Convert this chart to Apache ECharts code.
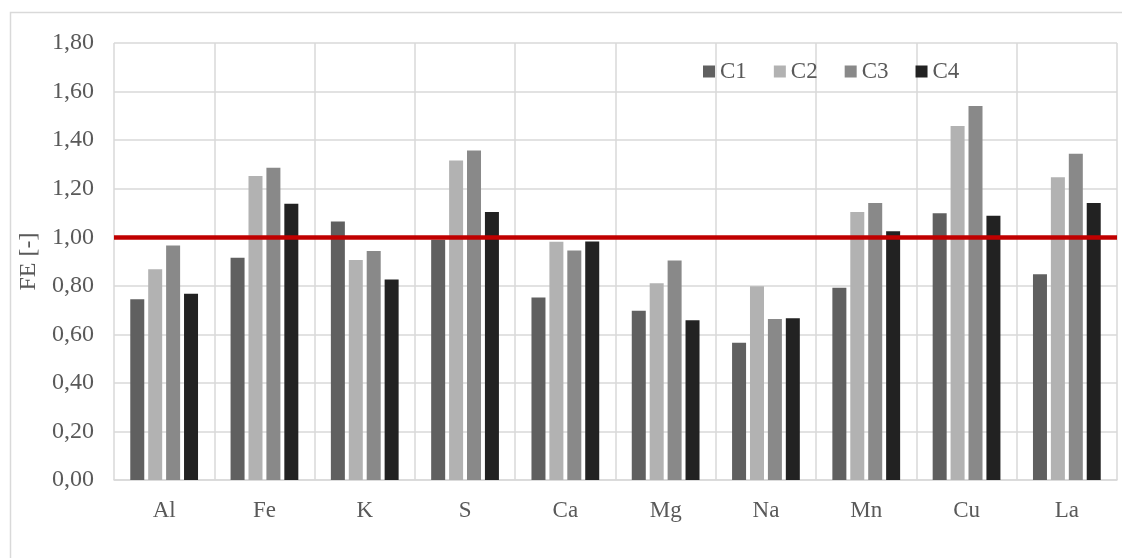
<!DOCTYPE html>
<html>
<head>
<meta charset="utf-8">
<script src="https://cdn.jsdelivr.net/npm/echarts@6/dist/echarts.min.js"></script>
<style>
  html, body { margin: 0; padding: 0; background: #ffffff; }
  #chart { width: 1122px; height: 558px; }
</style>
</head>
<body>
<div id="chart"></div>
<script>
// Elements on the category axis
const elements = ['Al', 'Fe', 'K', 'S', 'Ca', 'Mg', 'Na', 'Mn', 'Cu', 'La'];

// FE values per configuration
const c1 = [0.745, 0.915, 1.065, 0.99, 0.752, 0.697, 0.565, 0.792, 1.099, 0.847];
const c2 = [0.868, 1.252, 0.906, 1.316, 0.981, 0.810, 0.798, 1.104, 1.458, 1.247];
const c3 = [0.966, 1.286, 0.943, 1.357, 0.945, 0.904, 0.663, 1.141, 1.541, 1.344];
const c4 = [0.767, 1.138, 0.826, 1.104, 0.982, 0.658, 0.666, 1.025, 1.088, 1.141];

const seriesNames = ['C1', 'C2', 'C3', 'C4'];
const seriesColors = ['#606060', '#b2b2b2', '#898989', '#222222'];

// Reference level drawn across the plot
const referenceLevel = 1.0;

const fontFamily = '"Liberation Serif", "Times New Roman", serif';
const textColor = '#595959';
const gridColor = '#d9d9d9';

const chart = echarts.init(document.getElementById('chart'), null, { renderer: 'canvas' });

const seriesData = [c1, c2, c3, c4];
const series = seriesData.map((values, i) => ({
  name: seriesNames[i],
  type: 'bar',
  data: values,
  barWidth: 14,
  barGap: '28%',
  itemStyle: { color: seriesColors[i] },
  z: 2
}));

// Red threshold line attached to the first series
series[0].markLine = {
  silent: true,
  symbol: ['none', 'none'],
  label: { show: false },
  lineStyle: { color: '#c00000', width: 4.5, type: 'solid' },
  data: [{ yAxis: referenceLevel }],
  z: 5
};

chart.setOption({
  backgroundColor: '#ffffff',
  animation: false,
  graphic: [{
    type: 'rect',
    left: 8,
    top: 10,
    shape: { x: 0, y: 0, width: 1300, height: 700 },
    style: { fill: 'none', stroke: gridColor, lineWidth: 1.5 },
    silent: true,
    z: -10
  }],
  grid: { left: 114, right: 5, top: 43, bottom: 78, containLabel: false },
  legend: {
    data: seriesNames,
    left: 703,
    top: 60,
    padding: 0,
    icon: 'rect',
    itemWidth: 12,
    itemHeight: 12,
    itemGap: 27,
    textStyle: { fontFamily: fontFamily, fontSize: 23, color: textColor }
  },
  xAxis: {
    type: 'category',
    data: elements,
    axisLine: { show: true, lineStyle: { color: gridColor, width: 1.5 } },
    axisTick: { show: false },
    splitLine: { show: true, interval: 0, lineStyle: { color: gridColor, width: 1.5 } },
    axisLabel: { fontFamily: fontFamily, fontSize: 23, color: textColor, margin: 19, interval: 0 }
  },
  yAxis: {
    type: 'value',
    min: 0,
    max: 1.8,
    interval: 0.2,
    name: 'FE [-]',
    nameLocation: 'middle',
    nameGap: 71,
    nameTextStyle: { fontFamily: fontFamily, fontSize: 24, color: textColor },
    axisLine: { show: false },
    axisTick: { show: false },
    splitLine: { show: true, lineStyle: { color: gridColor, width: 1.5 } },
    axisLabel: {
      fontFamily: fontFamily,
      fontSize: 24,
      color: textColor,
      margin: 20,
      formatter: v => v.toFixed(2).replace('.', ',')
    }
  },
  series: series
});
</script>
</body>
</html>
